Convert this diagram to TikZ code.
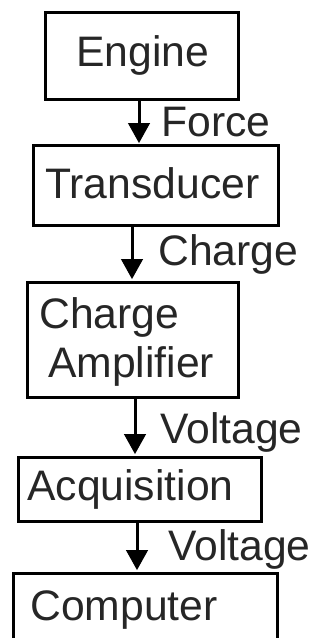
\documentclass[tikz,border=0pt]{standalone}
\usepackage{fontspec}
\setmainfont{Liberation Sans}
\usetikzlibrary{arrows.meta}
\begin{document}
\begin{tikzpicture}[x=0.75pt,y=-0.75pt,
  box/.style={draw=black, line width=2.25pt, inner sep=0pt, rectangle},
  txt/.style={anchor=base west, inner sep=0pt, font=\fontsize{32pt}{36pt}\selectfont, text=black!85},
  arr/.style={draw=black, line width=2.25pt, -{Triangle[length=15pt,width=16pt]}, shorten >=1pt}]
\useasboundingbox (0,0) rectangle (320,638);
\clip (0,0) rectangle (320,638);
% boxes
\node[box, minimum width=144.75pt, minimum height=65.25pt] (engine) at (141.5,56.5) {};
\node[box, minimum width=183.75pt, minimum height=59.25pt] (trans) at (155.5,185.5) {};
\node[box, minimum width=158.25pt, minimum height=86.25pt] (amp) at (132.5,339.5) {};
\node[box, minimum width=182.25pt, minimum height=48pt] (acq) at (139.5,489) {};
\node[box, minimum width=198pt, minimum height=65.25pt] (comp) at (145,616.5) {};
% box texts
\node[txt] (engine-t) at (76,67) {Engine};
\node[txt] (trans-t) at (45,198) {Transducer};
\node[txt] (amp-t1) at (39,328) {Charge};
\node[txt] (amp-t2) at (48,377) {Amplifier};
\node[txt] (acq-t) at (27,500) {Acquisition};
\node[txt] (comp-t) at (30,620) {Computer};
% arrow columns
\coordinate (a1) at (139,0);
\coordinate (a2) at (132,0);
\coordinate (a3) at (135,0);
\coordinate (a4) at (137,0);
\draw[arr] (engine.south -| a1) -- (trans.north -| a1);
\draw[arr] (trans.south -| a2) -- (amp.north -| a2);
\draw[arr] (amp.south -| a3) -- (acq.north -| a3);
\draw[arr] (acq.south -| a4) -- (comp.north -| a4);
% connector labels
\node[txt] (l1) at (161,137) {Force};
\node[txt] (l2) at (158,265) {Charge};
\node[txt] (l3) at (160,443) {Voltage};
\node[txt] (l4) at (168,560) {Voltage};
\end{tikzpicture}
\end{document}
